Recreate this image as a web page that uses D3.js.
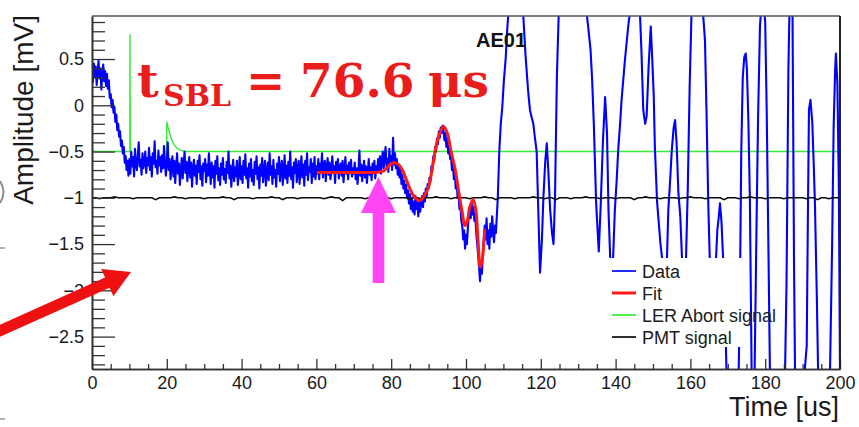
<!DOCTYPE html>
<html>
<head>
<meta charset="utf-8">
<script src="https://cdn.jsdelivr.net/npm/d3@7"></script>
<style>
  html, body { margin: 0; padding: 0; background: #fff; }
  svg { display: block; font-family: "Liberation Sans", Arial, Helvetica, sans-serif; }
</style>
</head>
<body>
<svg id="chart" width="859" height="427"></svg>
<script>
// ---- axis ticks and labels ----
const timeTicks = [0, 20, 40, 60, 80, 100, 120, 140, 160, 180, 200];
const amplitudeTicks = [-2.5, -2, -1.5, -1, -0.5, 0, 0.5];
const seriesNames = ["Data", "Fit", "LER Abort signal", "PMT signal"];
const channelName = "AE01";
const tSBL = 76.6; // fitted onset time [us]

// ---- Data: AE sensor trace, sampled every 0.25 us from 0 to 107.75 us ----
const dataStep = 0.25;
const dataEarly = [
  // 0-4 us
  0.38,0.25,0.45,0.31,0.42,0.22,0.36,0.48,0.29,0.40,0.17,0.33,0.44,0.26,0.37,0.21,
  // 4-5 us
  0.34,0.18,0.27,0.08,
  // 5-10 us
  0.12,-0.02,0.06,-0.08,-0.02,-0.18,-0.1,-0.27,-0.2,-0.34,-0.28,-0.44,-0.38,-0.52,-0.45,-0.62,-0.55,-0.7,-0.6,-0.76,
  // 10-20 us
  -0.58,-0.74,-0.5,-0.66,-0.56,-0.77,-0.47,-0.64,-0.7,-0.54,-0.4,-0.66,-0.59,-0.75,-0.52,-0.68,-0.62,-0.5,-0.73,-0.57,
  -0.65,-0.46,-0.7,-0.56,-0.77,-0.52,-0.63,-0.39,-0.67,-0.6,-0.74,-0.49,-0.65,-0.56,-0.72,-0.54,-0.68,-0.44,-0.62,-0.76,
  // 20-30 us
  -0.62,-0.4,-0.7,-0.58,-0.8,-0.65,-0.55,-0.77,-0.6,-0.84,-0.66,-0.52,-0.74,-0.63,-0.86,-0.7,-0.57,-0.79,-0.64,-0.5,
  -0.73,-0.61,-0.82,-0.67,-0.56,-0.78,-0.62,-0.88,-0.69,-0.59,-0.76,-0.65,-0.85,-0.6,-0.72,-0.54,-0.8,-0.66,-0.87,-0.63,
  // 30-40 us
  -0.71,-0.58,-0.83,-0.64,-0.76,-0.52,-0.7,-0.85,-0.62,-0.78,-0.66,-0.89,-0.6,-0.74,-0.55,-0.81,-0.68,-0.86,-0.63,-0.75,
  -0.57,-0.8,-0.69,-0.84,-0.61,-0.73,-0.5,-0.79,-0.65,-0.88,-0.7,-0.59,-0.82,-0.67,-0.77,-0.6,-0.86,-0.72,-0.56,-0.8,
  // 40-50 us
  -0.66,-0.84,-0.6,-0.75,-0.53,-0.79,-0.68,-0.89,-0.63,-0.77,-0.58,-0.82,-0.7,-0.86,-0.61,-0.74,-0.55,-0.8,-0.67,-0.9,
  -0.64,-0.76,-0.57,-0.83,-0.69,-0.6,-0.87,-0.72,-0.62,-0.81,-0.52,-0.75,-0.66,-0.85,-0.59,-0.78,-0.7,-0.88,-0.63,-0.74,
  // 50-60 us
  -0.56,-0.82,-0.68,-0.6,-0.86,-0.71,-0.54,-0.79,-0.65,-0.84,-0.61,-0.76,-0.5,-0.8,-0.67,-0.89,-0.62,-0.73,-0.58,-0.83,
  -0.69,-0.6,-0.85,-0.7,-0.55,-0.78,-0.64,-0.87,-0.6,-0.75,-0.52,-0.81,-0.67,-0.72,-0.58,-0.84,-0.63,-0.77,-0.56,-0.8,
  // 60-70 us
  -0.66,-0.74,-0.58,-0.8,-0.63,-0.7,-0.52,-0.78,-0.65,-0.6,-0.82,-0.68,-0.57,-0.75,-0.62,-0.8,-0.7,-0.55,-0.73,-0.66,
  -0.84,-0.61,-0.72,-0.58,-0.79,-0.67,-0.63,-0.76,-0.6,-0.83,-0.69,-0.56,-0.74,-0.65,-0.8,-0.62,-0.71,-0.59,-0.77,-0.68,
  // 70-76 us
  -0.74,-0.62,-0.8,-0.68,-0.85,-0.7,-0.49,-0.76,-0.64,-0.82,-0.69,-0.6,-0.78,-0.66,-0.84,-0.72,-0.58,-0.75,-0.67,-0.81,-0.63,-0.73,-0.6,-0.79,
  // 76-82 us
  -0.66,-0.72,-0.58,-0.7,-0.55,-0.74,-0.6,-0.5,-0.68,-0.56,-0.45,-0.66,-0.58,-0.72,-0.47,-0.62,-0.55,-0.7,-0.35,-0.64,-0.52,-0.68,-0.58,-0.75,
  // 82-90 us
  -0.66,-0.78,-0.7,-0.85,-0.75,-0.9,-0.82,-0.95,-0.86,-1.0,-0.92,-1.06,-0.96,-1.12,-1.0,-1.15,
  -1.04,-1.18,-0.98,-1.12,-1.05,-1.2,-1.02,-1.15,-1.06,-0.98,-1.1,-0.95,-1.04,-0.9,-0.98,-0.85,
  // 90-94 us
  -0.9,-0.78,-0.82,-0.66,-0.7,-0.55,-0.6,-0.45,-0.5,-0.36,-0.42,-0.28,-0.35,-0.24,-0.3,-0.22,
  // 94-96 us
  -0.28,-0.38,-0.3,-0.45,-0.36,-0.52,-0.44,-0.58,
  // 96-99 us
  -0.55,-0.7,-0.62,-0.8,-0.72,-0.9,-0.82,-1.0,-0.95,-1.12,-1.08,-1.25,
  // 99-101 us
  -1.3,-1.45,-1.35,-1.55,-1.4,-1.5,-1.32,-1.2,
  // 101-103 us
  -1.1,-1.22,-1.05,-1.18,-1.1,-1.25,-1.2,-1.38,
  // 103-105 us
  -1.5,-1.62,-1.75,-1.9,-1.7,-1.82,-1.6,-1.45,
  // 105-108 us
  -1.3,-1.45,-1.22,-1.5,-1.35,-1.55,-1.28,-1.42,-1.2,-1.36,-1.48,-1.3
];

// ---- Data after 108 us: large oscillation (time [us], amplitude [mV]) ----
const dataLateTime = [
  108.0,108.5,108.9,109.3,109.7,110.1,110.6,111.0,111.4,112.5,
  113.5,114.5,115.3,115.9,116.6,117.1,117.5,118.0,118.4,118.9,
  119.3,119.8,120.3,120.7,121.2,121.6,122.0,122.5,123.0,123.4,
  123.8,124.3,124.8,126.5,128.5,130.5,132.3,132.8,133.3,133.7,
  134.2,134.8,135.5,136.0,136.6,137.2,137.7,138.1,138.6,139.2,
  139.8,140.3,140.7,141.2,141.6,142.1,142.5,143.0,143.5,144.0,
  145.2,146.5,146.9,147.4,147.9,148.3,148.8,149.4,149.8,150.2,
  150.5,151.1,152.0,153.0,153.7,154.1,154.6,155.0,155.5,155.9,
  156.3,156.8,157.3,157.8,158.3,158.8,159.3,159.8,160.3,161.5,
  162.5,163.4,163.9,164.3,164.8,165.2,166.0,166.8,167.2,167.6,
  167.9,168.3,168.8,169.3,169.8,171.3,172.8,173.2,173.6,174.0,
  174.4,174.8,175.1,175.5,175.9,176.4,177.0,177.7,178.1,178.6,
  179.0,179.5,180.0,180.4,180.9,181.3,183.2,185.3,185.7,186.2,
  186.5,186.9,187.3,187.7,188.0,189.5,191.1,191.4,191.7,192.1,
  192.6,193.0,193.3,193.8,194.2,195.8,197.3,197.9,198.3,198.7,
  198.9,199.3,199.7,200.0
];
const dataLateValue = [
  -1.38,-1.0,-0.5,-0.2,-0.02,0.25,0.5,0.8,1.05,1.35,
  1.45,1.3,0.98,0.55,0.16,-0.05,-0.12,-0.2,-0.34,-0.5,
  -1.1,-1.81,-1.45,-0.99,-0.6,-0.41,-0.7,-1.13,-1.38,-1.5,
  -0.99,0.31,1.0,1.6,1.8,1.55,0.98,0.8,0.6,0.3,
  -0.23,-1.06,-1.58,-1.1,-0.4,0.09,-0.3,-1.13,-1.7,-1.8,
  -1.13,-0.8,-0.48,-0.2,0.06,0.3,0.49,0.7,0.9,1.05,
  1.3,1.0,0.6,-0.05,-0.2,-0.12,0.4,0.85,0.5,0.1,
  -0.45,-1.05,-1.5,-1.85,-1.7,-1.13,-0.8,-0.5,-0.25,-0.16,
  -0.4,-0.95,-1.2,-1.7,-2.0,-1.7,-0.9,0.2,1.0,1.5,
  1.4,0.98,0.7,-0.05,-1.1,-1.7,-2.1,-1.7,-1.35,-1.2,
  -1.06,-1.25,-1.7,-2.3,-3.1,-3.4,-3.1,-2.2,-0.5,0.3,
  0.52,0.56,0.4,-0.16,-1.0,-3.0,-3.4,-1.24,-0.12,0.85,
  1.1,1.15,0.9,-0.05,-1.67,-3.0,-3.5,-2.9,-1.93,0.38,
  1.05,1.3,1.0,-1.67,-3.0,-3.4,-2.6,-1.27,-0.05,0.06,
  -0.19,-0.67,-1.06,-2.07,-3.0,-3.5,-2.95,-1.49,-0.23,0.38,
  0.56,0.24,-0.9,-2.9
];

// ---- Fit ----
const fitTime = [
  60.5,62,64,66,68,70,72,74,
  75,76,77,78,79,80,81,82,83,84,85,86,87,
  87.7,88.5,89,90,91,92,93,94,95,96,97,98,99,
  99.7,100.3,101,101.9,102.6,103.2,103.8,104.3,105
];
const fitValue = [
  -0.725,-0.725,-0.725,-0.725,-0.725,-0.725,-0.725,-0.725,
  -0.725,-0.725,-0.72,-0.71,-0.67,-0.63,-0.62,-0.64,-0.7,-0.8,-0.9,-0.98,-1.02,
  -1.03,-1.0,-0.97,-0.88,-0.68,-0.44,-0.3,-0.23,-0.3,-0.5,-0.67,-0.92,-1.16,
  -1.3,-1.26,-1.1,-1.02,-1.12,-1.45,-1.75,-1.68,-1.35
];

// ---- LER abort signal ----
const lerTime  = [0, 3, 6, 10.1, 10.15, 10.25, 10.35, 19.9, 20.0, 20.4, 20.8, 21.2, 21.6, 22.0, 22.5, 23.0, 23.5, 24.0, 25, 30, 200];
const lerValue = [-0.5, -0.5, -0.5, -0.5, 0.77, -0.5, -0.62, -0.62, -0.18, -0.25, -0.31, -0.36, -0.4, -0.43, -0.455, -0.47, -0.485, -0.49, -0.5, -0.5, -0.5];

// ---- PMT signal, every 1 us from 0 to 200 us ----
const pmtStep = 1;
const pmtValue = [
  -1.00,-1.00,-1.01,-1.00,-1.00,-1.00,-0.99,-1.00,-1.00,-1.00,
  -1.00,-1.01,-1.00,-1.00,-1.00,-1.00,-1.00,-1.02,-1.00,-1.00,
  -1.00,-1.00,-0.99,-1.00,-1.00,-1.01,-1.00,-1.00,-1.00,-1.00,
  -1.01,-1.00,-1.00,-1.00,-1.00,-0.99,-1.00,-1.00,-1.02,-1.00,
  -1.00,-1.00,-1.00,-1.01,-1.00,-1.00,-1.00,-1.00,-0.99,-1.00,
  -1.00,-1.02,-1.00,-1.00,-1.00,-1.01,-1.00,-1.00,-1.00,-1.00,
  -1.00,-1.00,-1.01,-1.00,-0.99,-1.00,-1.00,-1.03,-1.00,-1.00,
  -1.00,-1.00,-1.00,-1.01,-1.00,-1.00,-0.99,-1.00,-1.00,-1.00,
  -1.01,-1.00,-1.00,-1.00,-1.00,-1.02,-1.00,-1.00,-1.01,-1.00,
  -1.00,-1.00,-0.99,-1.00,-1.00,-1.00,-1.01,-1.00,-1.00,-1.00,
  -1.00,-1.01,-1.00,-1.00,-1.00,-0.99,-1.00,-1.00,-1.02,-1.00,
  -1.00,-1.00,-1.00,-1.01,-1.00,-1.00,-1.00,-1.00,-0.99,-1.00,
  -1.00,-1.01,-1.00,-1.00,-1.02,-1.00,-1.00,-1.00,-1.01,-1.00,
  -1.00,-1.00,-0.99,-1.00,-1.00,-1.00,-1.01,-1.00,-1.00,-1.00,
  -1.01,-1.00,-1.00,-1.00,-1.00,-1.02,-1.00,-1.00,-0.99,-1.00,
  -1.00,-1.00,-1.01,-1.00,-1.00,-1.00,-1.00,-1.01,-1.00,-1.00,
  -0.99,-1.00,-1.00,-1.00,-1.01,-1.00,-1.00,-1.00,-1.00,-1.02,
  -1.00,-1.00,-1.00,-1.01,-1.00,-1.00,-0.99,-1.00,-1.00,-1.00,
  -1.01,-1.00,-1.00,-1.00,-1.00,-1.01,-1.00,-1.00,-1.00,-1.00,
  -1.00,-1.01,-1.00,-1.00,-1.02,-1.00,-1.00,-1.01,-1.00,-1.00,
  -1.00
];

// ---- colours ----
const colors = { data: "#0000ff", fit: "#ff1a1a", ler: "#33ee33", pmt: "#0a0a0a" };

// ---- layout ----
const frame = { left: 92, right: 840, top: 16, bottom: 369 };
const svg = d3.select("#chart");

const x = d3.scaleLinear().domain([0, 200]).range([frame.left, frame.right]);
const y = d3.scaleLinear().domain([-2.85, 0.965]).range([frame.bottom, frame.top]);

svg.append("defs").append("clipPath").attr("id", "plotClip")
  .append("rect")
  .attr("x", frame.left).attr("y", frame.top)
  .attr("width", frame.right - frame.left).attr("height", frame.bottom - frame.top);

const plot = svg.append("g").attr("clip-path", "url(#plotClip)");

const straight = d3.line().x(d => x(d[0])).y(d => y(d[1]));
const smooth = d3.line().x(d => x(d[0])).y(d => y(d[1])).curve(d3.curveCatmullRom.alpha(0.5));

const dataPts = dataEarly.map((v, i) => [i * dataStep, v])
  .concat(dataLateTime.map((t, i) => [t, dataLateValue[i]]));
const lerPts = lerTime.map((t, i) => [t, lerValue[i]]);
const pmtPts = pmtValue.map((v, i) => [i * pmtStep, v]);
const fitPts = fitTime.map((t, i) => [t, fitValue[i]]);

plot.append("path").datum(lerPts).attr("d", straight)
  .attr("fill", "none").attr("stroke", colors.ler).attr("stroke-width", 1.4);
plot.append("path").datum(dataPts).attr("d", straight)
  .attr("fill", "none").attr("stroke", colors.data).attr("stroke-width", 2.1)
  .attr("stroke-linejoin", "round");
plot.append("path").datum(pmtPts).attr("d", straight)
  .attr("fill", "none").attr("stroke", colors.pmt).attr("stroke-width", 1.6);
plot.append("path").datum(fitPts).attr("d", smooth)
  .attr("fill", "none").attr("stroke", colors.fit).attr("stroke-width", 3)
  .attr("stroke-linecap", "round");

// ---- legend (white filled box, no border) ----
const legend = svg.append("g");
legend.append("rect").attr("x", 600).attr("y", 258).attr("width", 145).attr("height", 89).attr("fill", "#fff");
const legendColors = [colors.data, colors.fit, colors.ler, colors.pmt];
const legendWidths = [1.7, 3, 1.7, 1.7];
seriesNames.forEach((name, i) => {
  const cy = 271 + i * 22;
  legend.append("line").attr("x1", 612).attr("x2", 636).attr("y1", cy).attr("y2", cy)
    .attr("stroke", legendColors[i]).attr("stroke-width", legendWidths[i]);
  legend.append("text").attr("x", 642).attr("y", cy + 6.5)
    .attr("font-size", 18).attr("fill", "#1a1a1a").text(name);
});

// ---- axes ----
const fmtTick = d => (d < 0 ? "\u2212" : "") + Math.abs(d);
const yMinor = d3.range(-28, 10).map(k => k / 10)
  .filter(v => !amplitudeTicks.some(m => Math.abs(m - v) < 1e-9));
const xMinor = d3.range(0, 201, 5).filter(v => v % 20 !== 0);

function styleAxis(g) {
  g.selectAll(".tick line").attr("stroke", "#333").attr("stroke-width", 1.3);
  g.select(".domain").attr("stroke", "#333").attr("stroke-width", 1.6);
  g.selectAll("text").attr("font-size", 18).attr("fill", "#1a1a1a")
    .attr("font-family", "'Liberation Sans', Arial, sans-serif");
}

svg.append("g").attr("transform", `translate(${frame.left},0)`)
  .call(d3.axisLeft(y).tickValues(yMinor).tickSize(-13).tickSizeOuter(0).tickFormat(""))
  .call(styleAxis);
svg.append("g").attr("transform", `translate(${frame.left},0)`)
  .call(d3.axisLeft(y).tickValues(amplitudeTicks).tickSize(-23).tickSizeOuter(0).tickPadding(8).tickFormat(fmtTick))
  .call(styleAxis);
svg.append("g").attr("transform", `translate(0,${frame.bottom})`)
  .call(d3.axisBottom(x).tickValues(xMinor).tickSize(-5).tickSizeOuter(0).tickFormat(""))
  .call(styleAxis);
svg.append("g").attr("transform", `translate(0,${frame.bottom})`)
  .call(d3.axisBottom(x).tickValues(timeTicks).tickSize(-10).tickSizeOuter(0).tickPadding(7).tickFormat(fmtTick))
  .call(styleAxis);

// frame top and right
svg.append("line").attr("x1", frame.left).attr("x2", frame.right).attr("y1", frame.top).attr("y2", frame.top)
  .attr("stroke", "#555").attr("stroke-width", 1.6);
svg.append("line").attr("x1", frame.right).attr("x2", frame.right).attr("y1", frame.top).attr("y2", frame.bottom)
  .attr("stroke", "#222").attr("stroke-width", 2);

// axis titles
svg.append("text").attr("transform", "rotate(-90)").attr("x", -15).attr("y", 33)
  .attr("text-anchor", "end").attr("font-size", 28).attr("fill", "#1a1a1a").text("Amplitude [mV]");
svg.append("text").attr("x", 839).attr("y", 416)
  .attr("text-anchor", "end").attr("font-size", 27).attr("fill", "#1a1a1a").text("Time [us]");

// channel name
svg.append("text").attr("x", 476).attr("y", 47).attr("font-size", 20).attr("font-weight", "bold")
  .attr("fill", "#111").text(channelName);

// ---- annotation: onset time ----
const red = "#ea1c1c";
const title = svg.append("g").attr("fill", red).attr("font-family", "'DejaVu Serif', serif").attr("font-weight", "bold");
title.append("text").attr("x", 137).attr("y", 97).attr("font-size", 47).text("t");
title.append("text").attr("x", 163).attr("y", 106).attr("font-size", 30).text("SBL");
title.append("text").attr("x", 246).attr("y", 97).attr("font-size", 47).text("=");
title.append("text").attr("x", 300).attr("y", 97).attr("font-size", 47).text(tSBL.toFixed(1));
title.append("text").attr("x", 428).attr("y", 97).attr("font-size", 47).text("\u03bcs");

// magenta arrow under the fitted onset
const ax = x(tSBL);
svg.append("path")
  .attr("d", `M${ax},177 L${ax + 17.5},213 L${ax + 5.8},213 L${ax + 5.8},283 L${ax - 5.8},283 L${ax - 5.8},213 L${ax - 17.5},213 Z`)
  .attr("fill", "#ff45f5");

// red arrow from the left margin
(function () {
  const tail = [-14, 337], tip = [131, 272];
  const dx = tip[0] - tail[0], dy = tip[1] - tail[1];
  const len = Math.hypot(dx, dy);
  const ux = dx / len, uy = dy / len, nx = -uy, ny = ux;
  const headLen = 26, headHalf = 15, shaftHalf = 5.5;
  const bx = tip[0] - ux * headLen, by = tip[1] - uy * headLen;
  const pts = [
    [tail[0] + nx * shaftHalf, tail[1] + ny * shaftHalf],
    [bx + nx * shaftHalf, by + ny * shaftHalf],
    [bx + nx * headHalf, by + ny * headHalf],
    tip,
    [bx - nx * headHalf, by - ny * headHalf],
    [bx - nx * shaftHalf, by - ny * shaftHalf],
    [tail[0] - nx * shaftHalf, tail[1] - ny * shaftHalf]
  ];
  svg.append("path").attr("d", "M" + pts.map(p => p.join(",")).join("L") + "Z").attr("fill", "#ee1111");
})();

// fragments at the left edge
svg.append("path").attr("d", "M0,181 Q7,192 0,203").attr("fill", "none").attr("stroke", "#8a8a8a").attr("stroke-width", 2);
svg.append("line").attr("x1", 0).attr("x2", 5).attr("y1", 248).attr("y2", 248).attr("stroke", "#999").attr("stroke-width", 1.5);
svg.append("line").attr("x1", 0).attr("x2", 5).attr("y1", 419).attr("y2", 419).attr("stroke", "#999").attr("stroke-width", 1.5);
</script>
</body>
</html>
